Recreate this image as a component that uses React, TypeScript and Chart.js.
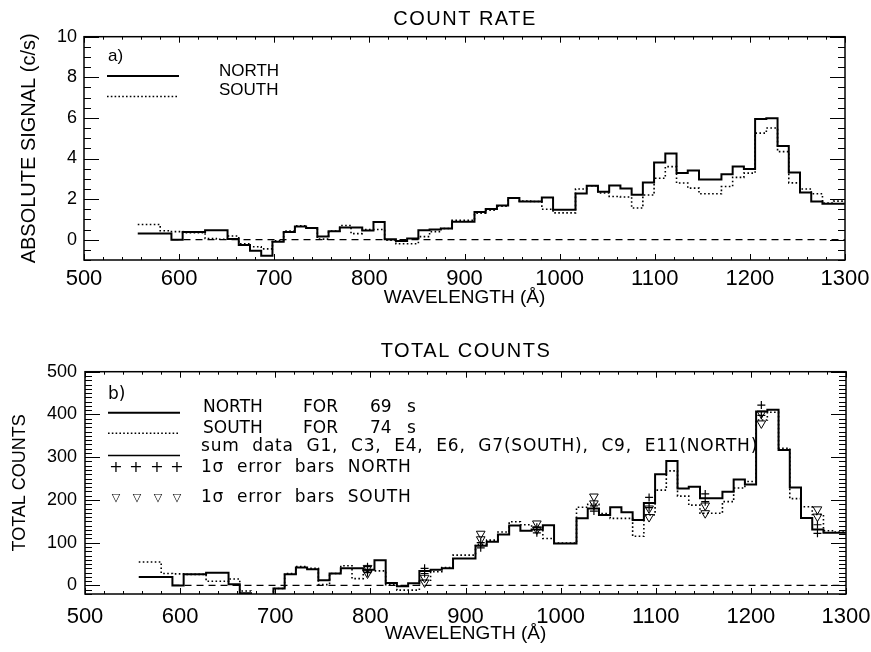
import React, { useEffect, useRef } from "react";
import { Chart, registerables } from "chart.js";

Chart.register(...registerables);

// ---------------- DATA ----------------
// Wavelength bin edges (Å), shared by every histogram
const BIN_EDGES = [
  556.5, 568.3, 580.1, 591.9, 603.7, 615.5, 627.3, 639.1, 650.9, 662.7,
  674.5, 686.3, 698.1, 709.9, 721.7, 733.5, 745.3, 757.1, 768.9, 780.7,
  792.5, 804.3, 816.1, 827.9, 839.7, 851.5, 863.3, 875.1, 886.9, 898.7,
  910.5, 922.3, 934.1, 945.9, 957.7, 969.5, 981.3, 993.1, 1004.9, 1016.7,
  1028.5, 1040.3, 1052.1, 1063.9, 1075.7, 1087.5, 1099.3, 1111.1, 1122.9, 1134.7,
  1146.5, 1158.3, 1170.1, 1181.9, 1193.7, 1205.5, 1217.3, 1229.1, 1240.9, 1252.7,
  1264.5, 1276.3, 1288.1, 1299.9,
];

// a) count rate (c/s)
const RATE_NORTH = [
  0.3, 0.3, 0.3, 0.0, 0.38, 0.38, 0.46, 0.46, 0.04, -0.26,
  -0.54, -0.79, -0.1, 0.38, 0.65, 0.58, 0.16, 0.42, 0.6, 0.6,
  0.45, 0.87, 0.02, -0.06, 0.06, 0.47, 0.5, 0.55, 0.88, 0.88,
  1.37, 1.51, 1.69, 2.05, 1.88, 1.88, 2.08, 1.48, 1.48, 2.28,
  2.66, 2.36, 2.67, 2.52, 2.21, 2.82, 3.8, 4.25, 3.28, 3.41,
  2.97, 2.97, 3.23, 3.61, 3.48, 5.95, 5.98, 4.62, 3.31, 2.33,
  1.88, 1.77, 1.77,
];
const RATE_SOUTH = [
  0.75, 0.75, 0.44, 0.4, 0.35, 0.35, 0.06, 0.02, 0.18, -0.2,
  -0.35, -0.45, -0.05, 0.42, 0.68, 0.58, 0.03, 0.42, 0.7, 0.3,
  0.5, 0.5, -0.03, -0.2, -0.2, 0.15, 0.4, 0.55, 0.95, 0.95,
  1.3, 1.45, 1.65, 2.05, 1.9, 1.88, 1.5, 1.32, 1.32, 2.5,
  2.66, 2.3, 2.13, 2.1, 1.56, 2.2, 3.03, 3.6, 2.79, 2.54,
  2.26, 2.26, 2.62, 3.07, 3.28, 5.25, 5.5, 4.34, 2.8, 2.5,
  2.26, 1.8, 1.9,
];

// b) total counts
const COUNTS_NORTH = [
  20, 20, 20, 0, 26, 26, 30, 30, 3, -18,
  -37, -55, -7, 26, 42, 38, 12, 28, 40, 40,
  37, 59, 6, -2, 5, 34, 37, 40, 63, 63,
  93, 102, 119, 140, 128, 131, 141, 98, 98, 157,
  180, 165, 183, 171, 153, 193, 260, 291, 227, 231,
  204, 204, 219, 248, 236, 407, 411, 317, 229, 158,
  131, 123, 123,
];
const COUNTS_SOUTH = [
  55, 55, 28, 27, 26, 26, 10, 10, 15, -13,
  -26, -33, -7, 28, 44, 40, 2, 28, 46, 16,
  34, 34, 2, -11, -11, 12, 32, 42, 71, 71,
  96, 106, 125, 149, 142, 136, 110, 99, 99, 183,
  190, 168, 157, 157, 115, 165, 223, 268, 209, 188,
  169, 169, 196, 228, 243, 387, 405, 321, 203, 184,
  166, 128, 125,
];

// 1-sigma error bar markers (b)
const ERR_X = [797, 857, 916, 975, 1035, 1093, 1152, 1211, 1270];
const ERR_NORTH_HIGH = [44, 40, 100, 136, 186, 206, 214, 422, 142];
const ERR_NORTH_LOW = [30, 28, 88, 123, 174, 182, 196, 398, 122];
const ERR_SOUTH_HIGH = [41, 18, 121, 145, 208, 180, 187, 402, 178];
const ERR_SOUTH_LOW = [28, 7, 108, 131, 192, 160, 169, 379, 161];

// zero reference line
const ZERO_LINE_X = [592, 1300];

// axes
const X_TICKS = [500, 600, 700, 800, 900, 1000, 1100, 1200, 1300];
const Y_TICKS_RATE = [0, 2, 4, 6, 8, 10];
const Y_TICKS_COUNTS = [0, 100, 200, 300, 400, 500];

// ---------------- STYLE ----------------
const LIB = "'Liberation Sans', Arial, sans-serif";
const DJV = "'DejaVu Sans', sans-serif";

type TextItem = {
  text: string;
  x: number;
  y: number;
  font: string;
  align?: CanvasTextAlign;
  spacing?: number;
  wordSpacing?: number;
};
type LineItem = { x1: number; x2: number; y: number; dash: number[]; width: number };

type DecorCfg = {
  xMinor: number;
  xMajor: number;
  yMinor: number;
  yMajor: number;
  xMinorLen: number;
  xMajorLen: number;
  yMinorLen: number;
  yMajorLen: number;
  texts: TextItem[];
  lines: LineItem[];
};

function makeDecor(cfg: DecorCfg) {
  return {
    id: "decor",
    afterDraw(chart: any) {
      const { ctx, chartArea, scales } = chart;
      const { left, right, top, bottom } = chartArea;
      const xs = scales.x;
      const ys = scales.y;
      ctx.save();
      ctx.strokeStyle = "#000";
      ctx.fillStyle = "#000";
      ctx.lineWidth = 1;
      ctx.setLineDash([]);
      ctx.beginPath();
      const isMul = (v: number, m: number) => Math.abs(v / m - Math.round(v / m)) < 1e-6;
      for (let v = xs.min; v <= xs.max + 1e-9; v += cfg.xMinor) {
        const px = Math.round(xs.getPixelForValue(v)) + 0.5;
        const len = isMul(v, cfg.xMajor) ? cfg.xMajorLen : cfg.xMinorLen;
        ctx.moveTo(px, bottom);
        ctx.lineTo(px, bottom - len);
        ctx.moveTo(px, top);
        ctx.lineTo(px, top + len);
      }
      const y0 = Math.ceil(ys.min / cfg.yMinor - 1e-9) * cfg.yMinor;
      for (let v = y0; v <= ys.max + 1e-9; v += cfg.yMinor) {
        const py = Math.round(ys.getPixelForValue(v)) + 0.5;
        const len = isMul(v, cfg.yMajor) ? cfg.yMajorLen : cfg.yMinorLen;
        ctx.moveTo(left, py);
        ctx.lineTo(left + len, py);
        ctx.moveTo(right, py);
        ctx.lineTo(right - len, py);
      }
      ctx.stroke();
      ctx.lineWidth = 1.5;
      ctx.strokeRect(left, top, right - left, bottom - top);

      for (const l of cfg.lines) {
        ctx.beginPath();
        ctx.lineWidth = l.width;
        ctx.setLineDash(l.dash);
        ctx.moveTo(l.x1, l.y);
        ctx.lineTo(l.x2, l.y);
        ctx.stroke();
      }
      ctx.setLineDash([]);
      ctx.textBaseline = "middle";
      for (const t of cfg.texts) {
        ctx.font = t.font;
        ctx.textAlign = t.align || "left";
        try {
          (ctx as any).letterSpacing = (t.spacing || 0) + "px";
          (ctx as any).wordSpacing = (t.wordSpacing || 0) + "px";
        } catch (e) {}
        ctx.fillText(t.text, t.x, t.y);
      }
      try {
        (ctx as any).letterSpacing = "0px";
        (ctx as any).wordSpacing = "0px";
      } catch (e) {}
      ctx.restore();
    },
  };
}

function stepPoints(edges: number[], values: number[]) {
  const pts = values.map((v, i) => ({ x: edges[i], y: v }));
  pts.push({ x: edges[values.length], y: values[values.length - 1] });
  return pts;
}

function markerPoints(xs: number[], ys: number[]) {
  return xs.map((x, i) => ({ x, y: ys[i] }));
}

type Geo = {
  top: number;
  right: number;
  yWidth: number;
  xHeight: number;
  xTickPad: number;
  xTitlePad: number;
  yTickPad: number;
  yTitlePad: number;
  yTitle: string;
  yTitleSize: number;
  yMin: number;
  yMax: number;
  yTicks: number[];
};

function baseOptions(g: Geo) {
  return {
    responsive: false,
    animation: false as const,
    events: [] as any[],
    layout: { padding: { top: g.top, right: g.right, left: 0, bottom: 0 } },
    plugins: { legend: { display: false }, tooltip: { enabled: false }, title: { display: false } },
    scales: {
      x: {
        type: "linear" as const,
        min: 500,
        max: 1300,
        afterBuildTicks: (s: any) => {
          s.ticks = X_TICKS.map((v) => ({ value: v }));
        },
        afterFit: (s: any) => {
          s.height = g.xHeight;
          s.paddingLeft = 0;
          s.paddingRight = 0;
        },
        grid: { display: false, drawTicks: false },
        border: { display: false },
        ticks: {
          color: "#000",
          font: { family: LIB, size: 22 },
          padding: g.xTickPad,
          maxRotation: 0,
          autoSkip: false,
          callback: (v: any) => String(v),
        },
        title: {
          display: true,
          text: "WAVELENGTH (Å)",
          color: "#000",
          font: { family: LIB, size: 19 },
          padding: { top: 0, bottom: g.xTitlePad },
        },
      },
      y: {
        type: "linear" as const,
        min: g.yMin,
        max: g.yMax,
        afterBuildTicks: (s: any) => {
          s.ticks = g.yTicks.map((v) => ({ value: v }));
        },
        afterFit: (s: any) => {
          s.width = g.yWidth;
          s.paddingTop = 0;
          s.paddingBottom = 0;
        },
        grid: { display: false, drawTicks: false },
        border: { display: false },
        ticks: {
          color: "#000",
          font: { family: LIB, size: 18 },
          padding: g.yTickPad,
          autoSkip: false,
          callback: (v: any) => String(v),
        },
        title: {
          display: true,
          text: g.yTitle,
          color: "#000",
          font: { family: LIB, size: g.yTitleSize },
          padding: { top: g.yTitlePad, bottom: 0 },
        },
      },
    },
  };
}

function histogram(data: any[], dotted: boolean) {
  return {
    type: "line" as const,
    data,
    stepped: true,
    borderColor: "#000",
    borderWidth: dotted ? 1.6 : 2,
    borderDash: dotted ? [1.6, 2.4] : [],
    pointRadius: 0,
    pointHoverRadius: 0,
    fill: false,
  };
}

function zeroLine() {
  return {
    type: "line" as const,
    data: ZERO_LINE_X.map((x) => ({ x, y: 0 })),
    borderColor: "#000",
    borderWidth: 1.2,
    borderDash: [7, 5],
    pointRadius: 0,
    pointHoverRadius: 0,
    fill: false,
  };
}

function chartRateConfig(): any {
  const g: Geo = {
    top: 36.7,
    right: 26,
    yWidth: 84,
    xHeight: 60,
    xTickPad: 5.5,
    xTitlePad: 10.5,
    yTickPad: 7,
    yTitlePad: 17,
    yTitle: "ABSOLUTE SIGNAL (c/s)",
    yTitleSize: 20,
    yMin: -1,
    yMax: 10,
    yTicks: Y_TICKS_RATE,
  };
  const decor = makeDecor({
    xMinor: 20,
    xMajor: 100,
    yMinor: 0.5,
    yMajor: 2,
    xMinorLen: 3,
    xMajorLen: 6,
    yMinorLen: 7,
    yMajorLen: 15,
    lines: [
      { x1: 107, x2: 179, y: 76, dash: [], width: 2 },
      { x1: 107, x2: 179, y: 96.5, dash: [1.6, 2.2], width: 1.6 },
    ],
    texts: [
      { text: "COUNT RATE", x: 465, y: 19.5, font: `20px ${LIB}`, align: "center", spacing: 1.5 },
      { text: "a)", x: 108, y: 56, font: `17px ${LIB}` },
      { text: "NORTH", x: 219, y: 71, font: `17px ${LIB}` },
      { text: "SOUTH", x: 219, y: 90.5, font: `17px ${LIB}` },
    ],
  });
  return {
    type: "line",
    data: {
      datasets: [
        zeroLine(),
        histogram(stepPoints(BIN_EDGES, RATE_SOUTH), true),
        histogram(stepPoints(BIN_EDGES, RATE_NORTH), false),
      ],
    },
    options: baseOptions(g),
    plugins: [decor],
  };
}

function chartCountsConfig(): any {
  const g: Geo = {
    top: 51.7,
    right: 25,
    yWidth: 85,
    xHeight: 58,
    xTickPad: 9.8,
    xTitlePad: 6.5,
    yTickPad: 8,
    yTitlePad: 9,
    yTitle: "TOTAL COUNTS",
    yTitleSize: 18,
    yMin: -20,
    yMax: 500,
    yTicks: Y_TICKS_COUNTS,
  };
  const legendFont = `17px ${DJV}`;
  const decor = makeDecor({
    xMinor: 20,
    xMajor: 100,
    yMinor: 10,
    yMajor: 100,
    xMinorLen: 3,
    xMajorLen: 6,
    yMinorLen: 7,
    yMajorLen: 15,
    lines: [
      { x1: 108, x2: 180, y: 92.7, dash: [], width: 2 },
      { x1: 108, x2: 180, y: 113.3, dash: [1.6, 2.2], width: 1.6 },
      { x1: 108, x2: 180, y: 135.5, dash: [], width: 1.3 },
    ],
    texts: [
      { text: "TOTAL COUNTS", x: 466, y: 31.5, font: `20px ${LIB}`, align: "center", spacing: 1.5 },
      { text: "b)", x: 108, y: 75, font: legendFont },
      { text: "NORTH", x: 203, y: 88, font: legendFont },
      { text: "FOR", x: 303, y: 88, font: legendFont },
      { text: "69", x: 370, y: 88, font: legendFont },
      { text: "s", x: 407, y: 88, font: legendFont },
      { text: "SOUTH", x: 203, y: 108.5, font: legendFont },
      { text: "FOR", x: 303, y: 108.5, font: legendFont },
      { text: "74", x: 370, y: 108.5, font: legendFont },
      { text: "s", x: 407, y: 108.5, font: legendFont },
      {
        text: "sum data G1, C3, E4, E6, G7(SOUTH), C9, E11(NORTH)",
        x: 201,
        y: 126.5,
        font: legendFont,
        spacing: 0.8,
        wordSpacing: 6.5,
      },
      { text: "+", x: 116, y: 148, font: `16px ${DJV}`, align: "center" },
      { text: "+", x: 136, y: 148, font: `16px ${DJV}`, align: "center" },
      { text: "+", x: 157, y: 148, font: `16px ${DJV}`, align: "center" },
      { text: "+", x: 177, y: 148, font: `16px ${DJV}`, align: "center" },
      { text: "1σ error bars NORTH", x: 201, y: 147.5, font: legendFont, spacing: 0.8, wordSpacing: 6.5 },
      { text: "▽", x: 116, y: 178, font: `11px ${DJV}`, align: "center" },
      { text: "▽", x: 137, y: 178, font: `11px ${DJV}`, align: "center" },
      { text: "▽", x: 158, y: 178, font: `11px ${DJV}`, align: "center" },
      { text: "▽", x: 177, y: 178, font: `11px ${DJV}`, align: "center" },
      { text: "1σ error bars SOUTH", x: 201, y: 178, font: legendFont, spacing: 0.8, wordSpacing: 6.5 },
    ],
  });
  const tri = (data: any[]) => ({
    type: "line" as const,
    data,
    showLine: false,
    pointStyle: "triangle",
    rotation: 180,
    pointRadius: 5,
    pointHoverRadius: 5,
    pointBackgroundColor: "rgba(0,0,0,0)",
    pointBorderColor: "#000",
    pointBorderWidth: 1,
  });
  const plus = (data: any[]) => ({
    type: "line" as const,
    data,
    showLine: false,
    pointStyle: "cross",
    pointRadius: 4,
    pointHoverRadius: 4,
    pointBorderColor: "#000",
    pointBorderWidth: 1.2,
  });
  return {
    type: "line",
    data: {
      datasets: [
        zeroLine(),
        histogram(stepPoints(BIN_EDGES, COUNTS_SOUTH), true),
        histogram(stepPoints(BIN_EDGES, COUNTS_NORTH), false),
        tri(markerPoints(ERR_X, ERR_SOUTH_HIGH)),
        tri(markerPoints(ERR_X, ERR_SOUTH_LOW)),
        plus(markerPoints(ERR_X, ERR_NORTH_HIGH)),
        plus(markerPoints(ERR_X, ERR_NORTH_LOW)),
      ],
    },
    options: baseOptions(g),
    plugins: [decor],
  };
}

export default function App() {
  const ref1 = useRef<HTMLCanvasElement>(null);
  const ref2 = useRef<HTMLCanvasElement>(null);
  useEffect(() => {
    const c1 = new Chart(ref1.current as HTMLCanvasElement, chartRateConfig());
    const c2 = new Chart(ref2.current as HTMLCanvasElement, chartCountsConfig());
    return () => {
      c1.destroy();
      c2.destroy();
    };
  }, []);
  return (
    <div style={{ position: "absolute", left: 0, top: 0, width: 871, height: 652, background: "#fff" }}>
      <canvas
        ref={ref1}
        width={871}
        height={320}
        style={{ position: "absolute", left: 0, top: 0, width: 871, height: 320 }}
      />
      <canvas
        ref={ref2}
        width={871}
        height={332}
        style={{ position: "absolute", left: 0, top: 320, width: 871, height: 332 }}
      />
    </div>
  );
}
